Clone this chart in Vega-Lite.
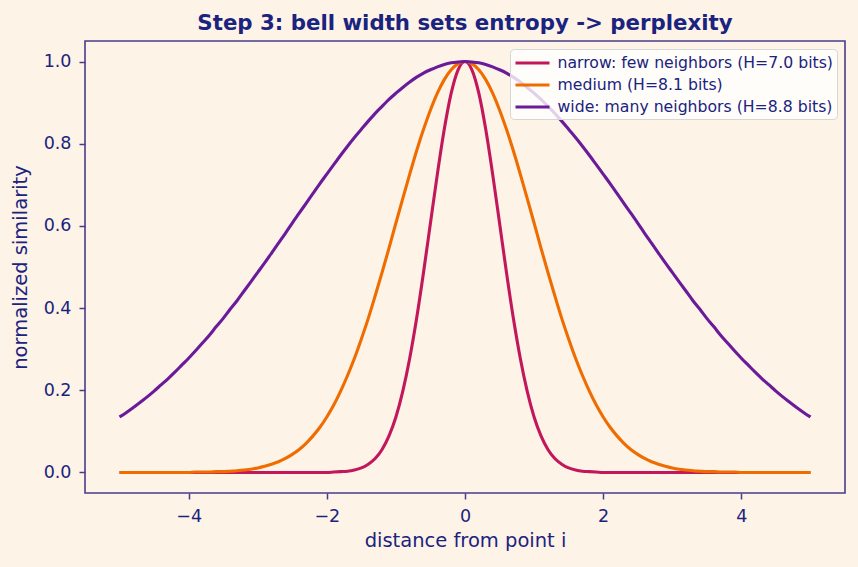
{
  "$schema": "https://vega.github.io/schema/vega-lite/v6.json",
  "width": 760,
  "height": 452,
  "autosize": {"type": "none"},
  "padding": {"left": 85, "top": 41, "right": 13, "bottom": 74},
  "background": "#fef3e7",
  "title": {
    "text": "Step 3: bell width sets entropy -> perplexity",
    "font": "DejaVu Sans",
    "fontSize": 21.3,
    "fontWeight": "bold",
    "color": "#1a237e",
    "anchor": "middle",
    "baseline": "bottom",
    "offset": 8,
    "dy": 22
  },
  "config": {
    "view": {"stroke": "#483d8b", "strokeWidth": 1.6, "fill": "#fef3e7"},
    "font": "DejaVu Sans",
    "axis": {
      "labelFont": "DejaVu Sans",
      "titleFont": "DejaVu Sans",
      "labelFontSize": 17.5,
      "titleFontSize": 19.5,
      "titleFontWeight": "normal",
      "labelColor": "#1a237e",
      "titleColor": "#1a237e",
      "tickColor": "#483d8b",
      "tickSize": 6,
      "tickWidth": 1.5,
      "domain": false,
      "grid": false,
      "labelPadding": 8
    },
    "legend": {
      "labelFont": "DejaVu Sans",
      "labelFontSize": 15.7,
      "labelColor": "#1a237e",
      "labelLimit": 400
    }
  },
  "data": {
    "values": [
      {"x": -5.0, "narrow": 0, "medium": 0, "wide": 0.135},
      {"x": -4.9, "narrow": 0, "medium": 0, "wide": 0.146},
      {"x": -4.8, "narrow": 0, "medium": 0, "wide": 0.158},
      {"x": -4.7, "narrow": 0, "medium": 0, "wide": 0.171},
      {"x": -4.6, "narrow": 0, "medium": 0, "wide": 0.184},
      {"x": -4.5, "narrow": 0, "medium": 0, "wide": 0.198},
      {"x": -4.4, "narrow": 0, "medium": 0, "wide": 0.213},
      {"x": -4.3, "narrow": 0, "medium": 0, "wide": 0.228},
      {"x": -4.2, "narrow": 0, "medium": 0, "wide": 0.244},
      {"x": -4.1, "narrow": 0, "medium": 0, "wide": 0.261},
      {"x": -4.0, "narrow": 0, "medium": 0, "wide": 0.278},
      {"x": -3.9, "narrow": 0, "medium": 0.001, "wide": 0.296},
      {"x": -3.8, "narrow": 0, "medium": 0.001, "wide": 0.315},
      {"x": -3.7, "narrow": 0, "medium": 0.001, "wide": 0.334},
      {"x": -3.6, "narrow": 0, "medium": 0.002, "wide": 0.355},
      {"x": -3.5, "narrow": 0, "medium": 0.002, "wide": 0.375},
      {"x": -3.4, "narrow": 0, "medium": 0.003, "wide": 0.397},
      {"x": -3.3, "narrow": 0, "medium": 0.004, "wide": 0.418},
      {"x": -3.2, "narrow": 0, "medium": 0.006, "wide": 0.441},
      {"x": -3.1, "narrow": 0, "medium": 0.008, "wide": 0.464},
      {"x": -3.0, "narrow": 0, "medium": 0.011, "wide": 0.487},
      {"x": -2.9, "narrow": 0, "medium": 0.015, "wide": 0.510},
      {"x": -2.8, "narrow": 0, "medium": 0.020, "wide": 0.534},
      {"x": -2.7, "narrow": 0, "medium": 0.026, "wide": 0.558},
      {"x": -2.6, "narrow": 0, "medium": 0.034, "wide": 0.582},
      {"x": -2.5, "narrow": 0, "medium": 0.044, "wide": 0.607},
      {"x": -2.4, "narrow": 0, "medium": 0.056, "wide": 0.631},
      {"x": -2.3, "narrow": 0, "medium": 0.071, "wide": 0.655},
      {"x": -2.2, "narrow": 0, "medium": 0.089, "wide": 0.679},
      {"x": -2.1, "narrow": 0, "medium": 0.110, "wide": 0.703},
      {"x": -2.0, "narrow": 0, "medium": 0.135, "wide": 0.726},
      {"x": -1.9, "narrow": 0.001, "medium": 0.164, "wide": 0.749},
      {"x": -1.8, "narrow": 0.002, "medium": 0.198, "wide": 0.772},
      {"x": -1.7, "narrow": 0.003, "medium": 0.236, "wide": 0.794},
      {"x": -1.6, "narrow": 0.006, "medium": 0.278, "wide": 0.815},
      {"x": -1.5, "narrow": 0.011, "medium": 0.325, "wide": 0.835},
      {"x": -1.4, "narrow": 0.020, "medium": 0.375, "wide": 0.855},
      {"x": -1.3, "narrow": 0.034, "medium": 0.430, "wide": 0.874},
      {"x": -1.2, "narrow": 0.056, "medium": 0.487, "wide": 0.891},
      {"x": -1.1, "narrow": 0.089, "medium": 0.546, "wide": 0.908},
      {"x": -1.0, "narrow": 0.135, "medium": 0.607, "wide": 0.923},
      {"x": -0.9, "narrow": 0.198, "medium": 0.667, "wide": 0.937},
      {"x": -0.8, "narrow": 0.278, "medium": 0.726, "wide": 0.950},
      {"x": -0.7, "narrow": 0.375, "medium": 0.783, "wide": 0.962},
      {"x": -0.6, "narrow": 0.487, "medium": 0.835, "wide": 0.972},
      {"x": -0.5, "narrow": 0.607, "medium": 0.882, "wide": 0.980},
      {"x": -0.4, "narrow": 0.726, "medium": 0.923, "wide": 0.987},
      {"x": -0.3, "narrow": 0.835, "medium": 0.956, "wide": 0.993},
      {"x": -0.2, "narrow": 0.923, "medium": 0.980, "wide": 0.997},
      {"x": -0.1, "narrow": 0.980, "medium": 0.995, "wide": 0.999},
      {"x": 0.0, "narrow": 1, "medium": 1, "wide": 1},
      {"x": 0.1, "narrow": 0.980, "medium": 0.995, "wide": 0.999},
      {"x": 0.2, "narrow": 0.923, "medium": 0.980, "wide": 0.997},
      {"x": 0.3, "narrow": 0.835, "medium": 0.956, "wide": 0.993},
      {"x": 0.4, "narrow": 0.726, "medium": 0.923, "wide": 0.987},
      {"x": 0.5, "narrow": 0.607, "medium": 0.882, "wide": 0.980},
      {"x": 0.6, "narrow": 0.487, "medium": 0.835, "wide": 0.972},
      {"x": 0.7, "narrow": 0.375, "medium": 0.783, "wide": 0.962},
      {"x": 0.8, "narrow": 0.278, "medium": 0.726, "wide": 0.950},
      {"x": 0.9, "narrow": 0.198, "medium": 0.667, "wide": 0.937},
      {"x": 1.0, "narrow": 0.135, "medium": 0.607, "wide": 0.923},
      {"x": 1.1, "narrow": 0.089, "medium": 0.546, "wide": 0.908},
      {"x": 1.2, "narrow": 0.056, "medium": 0.487, "wide": 0.891},
      {"x": 1.3, "narrow": 0.034, "medium": 0.430, "wide": 0.874},
      {"x": 1.4, "narrow": 0.020, "medium": 0.375, "wide": 0.855},
      {"x": 1.5, "narrow": 0.011, "medium": 0.325, "wide": 0.835},
      {"x": 1.6, "narrow": 0.006, "medium": 0.278, "wide": 0.815},
      {"x": 1.7, "narrow": 0.003, "medium": 0.236, "wide": 0.794},
      {"x": 1.8, "narrow": 0.002, "medium": 0.198, "wide": 0.772},
      {"x": 1.9, "narrow": 0.001, "medium": 0.164, "wide": 0.749},
      {"x": 2.0, "narrow": 0, "medium": 0.135, "wide": 0.726},
      {"x": 2.1, "narrow": 0, "medium": 0.110, "wide": 0.703},
      {"x": 2.2, "narrow": 0, "medium": 0.089, "wide": 0.679},
      {"x": 2.3, "narrow": 0, "medium": 0.071, "wide": 0.655},
      {"x": 2.4, "narrow": 0, "medium": 0.056, "wide": 0.631},
      {"x": 2.5, "narrow": 0, "medium": 0.044, "wide": 0.607},
      {"x": 2.6, "narrow": 0, "medium": 0.034, "wide": 0.582},
      {"x": 2.7, "narrow": 0, "medium": 0.026, "wide": 0.558},
      {"x": 2.8, "narrow": 0, "medium": 0.020, "wide": 0.534},
      {"x": 2.9, "narrow": 0, "medium": 0.015, "wide": 0.510},
      {"x": 3.0, "narrow": 0, "medium": 0.011, "wide": 0.487},
      {"x": 3.1, "narrow": 0, "medium": 0.008, "wide": 0.464},
      {"x": 3.2, "narrow": 0, "medium": 0.006, "wide": 0.441},
      {"x": 3.3, "narrow": 0, "medium": 0.004, "wide": 0.418},
      {"x": 3.4, "narrow": 0, "medium": 0.003, "wide": 0.397},
      {"x": 3.5, "narrow": 0, "medium": 0.002, "wide": 0.375},
      {"x": 3.6, "narrow": 0, "medium": 0.002, "wide": 0.355},
      {"x": 3.7, "narrow": 0, "medium": 0.001, "wide": 0.334},
      {"x": 3.8, "narrow": 0, "medium": 0.001, "wide": 0.315},
      {"x": 3.9, "narrow": 0, "medium": 0.001, "wide": 0.296},
      {"x": 4.0, "narrow": 0, "medium": 0, "wide": 0.278},
      {"x": 4.1, "narrow": 0, "medium": 0, "wide": 0.261},
      {"x": 4.2, "narrow": 0, "medium": 0, "wide": 0.244},
      {"x": 4.3, "narrow": 0, "medium": 0, "wide": 0.228},
      {"x": 4.4, "narrow": 0, "medium": 0, "wide": 0.213},
      {"x": 4.5, "narrow": 0, "medium": 0, "wide": 0.198},
      {"x": 4.6, "narrow": 0, "medium": 0, "wide": 0.184},
      {"x": 4.7, "narrow": 0, "medium": 0, "wide": 0.171},
      {"x": 4.8, "narrow": 0, "medium": 0, "wide": 0.158},
      {"x": 4.9, "narrow": 0, "medium": 0, "wide": 0.146},
      {"x": 5.0, "narrow": 0, "medium": 0, "wide": 0.135}
    ]
  },
  "transform": [
    {"fold": ["narrow", "medium", "wide"], "as": ["series", "value"]}
  ],
  "mark": {"type": "line", "strokeWidth": 3.1, "interpolate": "monotone", "clip": true},
  "encoding": {
    "x": {
      "field": "x",
      "type": "quantitative",
      "scale": {"domain": [-5.5, 5.5], "nice": false, "zero": false},
      "axis": {"values": [-4, -2, 0, 2, 4], "format": "d", "title": "distance from point i", "titlePadding": 7}
    },
    "y": {
      "field": "value",
      "type": "quantitative",
      "scale": {"domain": [-0.05, 1.05], "nice": false, "zero": false},
      "axis": {"values": [0, 0.2, 0.4, 0.6, 0.8, 1.0], "format": ".1f", "title": "normalized similarity", "titlePadding": 13}
    },
    "color": {
      "field": "series",
      "type": "nominal",
      "scale": {"domain": ["narrow", "medium", "wide"], "range": ["#c2185b", "#ef6c00", "#6a1b9a"]},
      "legend": {
        "title": null,
        "orient": "top-right",
        "offset": 8,
        "padding": 4,
        "fillColor": "rgba(255,255,255,0.8)",
        "strokeColor": "#d6d6d6",
        "cornerRadius": 4,
        "symbolType": "M-2,0H2",
        "symbolSize": 289,
        "symbolOffset": 8.5,
        "symbolStrokeWidth": 3,
        "labelOffset": 15,
        "rowPadding": 4,
        "labelExpr": "datum.label == 'narrow' ? 'narrow: few neighbors (H=7.0 bits)' : datum.label == 'medium' ? 'medium (H=8.1 bits)' : 'wide: many neighbors (H=8.8 bits)'"
      }
    }
  }
}
